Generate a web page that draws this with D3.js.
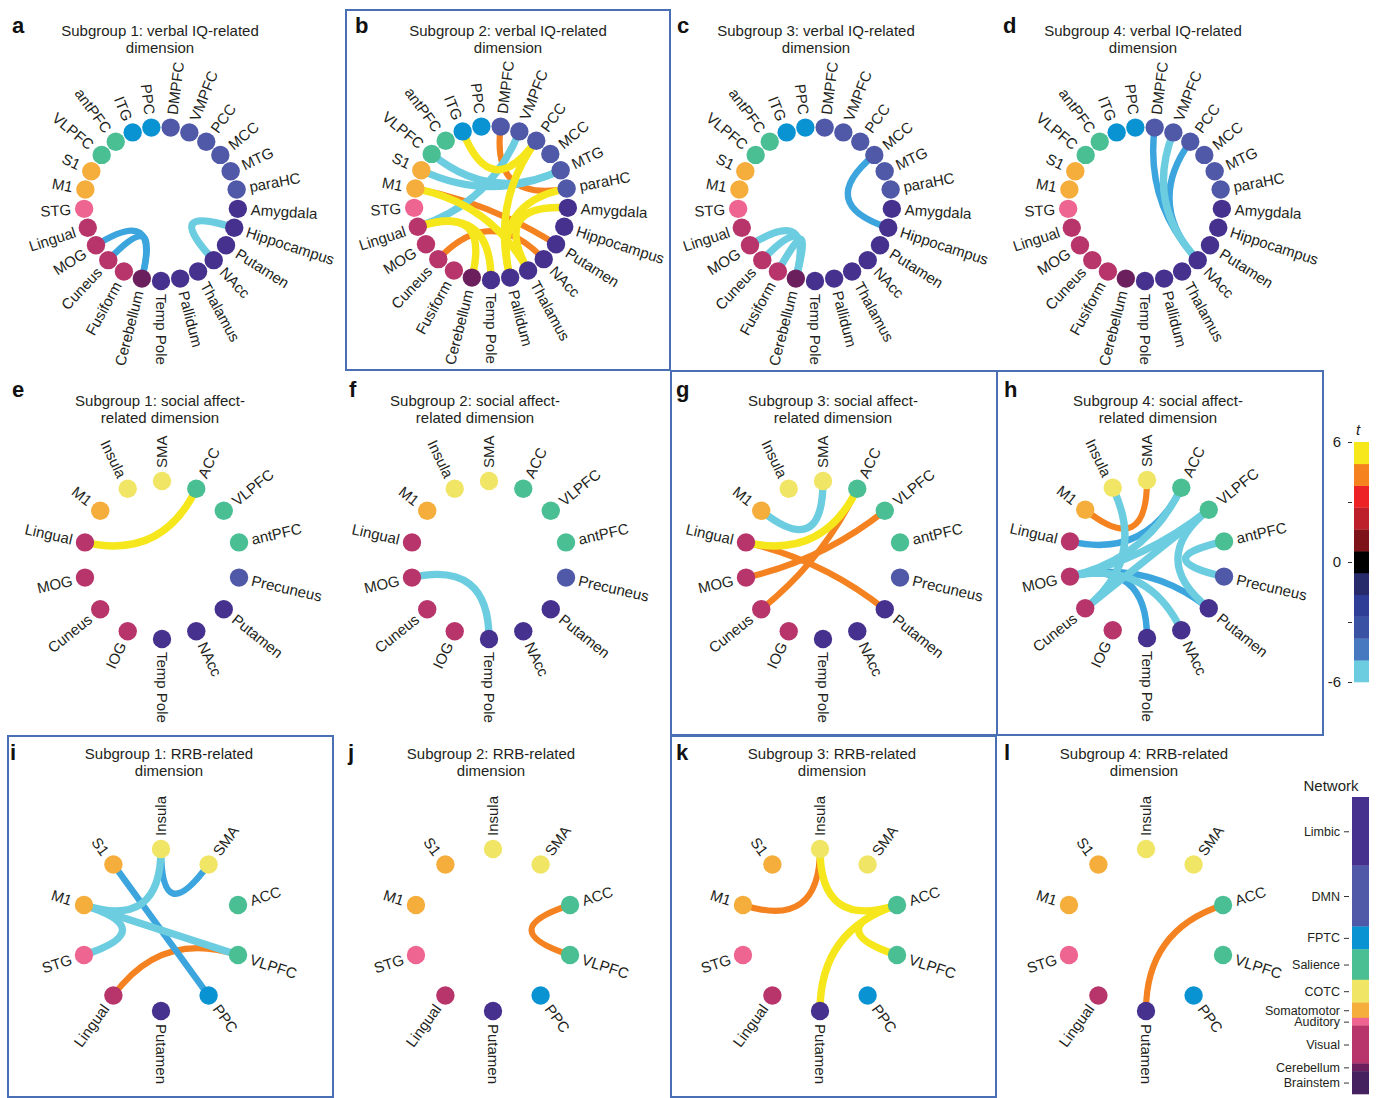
<!DOCTYPE html>
<html>
<head>
<meta charset="utf-8">
<script src="https://cdn.jsdelivr.net/npm/d3@7"></script>
<style>
  body { margin: 0; background: #fff; }
  svg { display: block; font-family: "Liberation Sans", Arial, sans-serif; }
</style>
</head>
<body>
<svg id="fig" width="1380" height="1098"></svg>
<script>
// ---------- regions (clockwise order around each ring) ----------
const verbalNodes = ["DMPFC","VMPFC","PCC","MCC","MTG","paraHC","Amygdala","Hippocampus","Putamen","NAcc",
  "Thalamus","Pallidum","Temp Pole","Cerebellum","Fusiform","Cuneus","MOG","Lingual","STG","M1","S1",
  "VLPFC","antPFC","ITG","PPC"];
const socialNodes = ["SMA","ACC","VLPFC","antPFC","Precuneus","Putamen","NAcc","Temp Pole","IOG","Cuneus",
  "MOG","Lingual","M1","Insula"];
const rrbNodes = ["Insula","SMA","ACC","VLPFC","PPC","Putamen","Lingual","STG","M1","S1"];

// ---------- networks ----------
const networkNames  = ["Limbic","DMN","FPTC","Salience","COTC","Somatomotor","Auditory","Visual","Cerebellum","Brainstem"];
const networkSizes  = [9, 8, 3, 4, 3, 2, 1, 5, 1, 3];
const networkColors = ["#47318f","#5059a7","#0a93d2","#4abf94","#f0e565","#f5ad3b","#ef6592","#b8356b","#6b1f5d","#45225f"];

const limbicRegions    = ["Amygdala","Hippocampus","Putamen","NAcc","Thalamus","Pallidum","Temp Pole"];
const dmnRegions       = ["DMPFC","VMPFC","PCC","MCC","MTG","paraHC","Precuneus"];
const fptcRegions      = ["ITG","PPC"];
const salienceRegions  = ["VLPFC","antPFC","ACC"];
const cotcRegions      = ["Insula","SMA"];
const somatoRegions    = ["M1","S1"];
const auditoryRegions  = ["STG"];
const visualRegions    = ["Fusiform","Cuneus","MOG","Lingual","IOG"];
const cerebellumRegions= ["Cerebellum"];

// ---------- t-value colour bar ----------
const tBinColors = ["#6dcde0","#4679bf","#3a52a3","#2e3d96","#272a6b","#000000",
                    "#7e1419","#bd1f2b","#ec2227","#f6821f","#f6e81b"]; // from t = -6 up to t = 6
const tTicks = [-6, -3, 0, 3, 6];

// ---------- connections: [region, region, t] ----------
const edgesA = [["MOG","Cerebellum",-4.6],["Cuneus","Cerebellum",-4.6],["Hippocampus","NAcc",-5.7]];
const edgesB = [["VMPFC","Lingual",-5.6],["VLPFC","MTG",-5.6],["S1","MTG",-5.6],
  ["DMPFC","paraHC",4.2],["M1","Putamen",4.2],["Cuneus","NAcc",4.2],
  ["ITG","PCC",5.8],["PCC","Pallidum",5.8],["M1","Thalamus",5.8],["Lingual","Cerebellum",5.8],
  ["Lingual","Temp Pole",5.8],["paraHC","Pallidum",5.8],["Amygdala","Thalamus",5.8]];
const edgesC = [["MCC","Hippocampus",-4.6],["MOG","Cerebellum",-5.7],["Cuneus","Cerebellum",-5.7],["Fusiform","Cerebellum",-5.7]];
const edgesD = [["DMPFC","NAcc",-4.6],["VMPFC","NAcc",-5.7],["PCC","NAcc",-4.6]];
const edgesE = [["Lingual","ACC",5.8]];
const edgesF = [["MOG","Temp Pole",-5.7]];
const edgesG = [["M1","SMA",-5.7],["Lingual","ACC",5.8],["MOG","VLPFC",4.2],["Cuneus","ACC",4.2],["Lingual","Putamen",4.2]];
const edgesH = [["M1","SMA",4.2],["Insula","Cuneus",-5.7],["Lingual","ACC",-4.6],["ACC","MOG",-5.7],
  ["VLPFC","MOG",-5.7],["VLPFC","Cuneus",-5.7],["VLPFC","Putamen",-5.7],["antPFC","Precuneus",-5.7],
  ["MOG","Putamen",-4.6],["MOG","NAcc",-5.7],["MOG","Temp Pole",-4.6]];
const edgesI = [["M1","STG",-5.7],["M1","VLPFC",-5.7],["M1","Insula",-5.7],["Insula","SMA",-4.6],["S1","PPC",-4.6],["Lingual","VLPFC",4.2]];
const edgesJ = [["ACC","VLPFC",4.2]];
const edgesK = [["M1","Insula",4.2],["Insula","ACC",5.8],["ACC","VLPFC",5.8],["ACC","Putamen",5.8]];
const edgesL = [["ACC","Putamen",4.2]];

// ---------- lookups / scales ----------
const regionNetwork = new Map();
[[limbicRegions,"Limbic"],[dmnRegions,"DMN"],[fptcRegions,"FPTC"],[salienceRegions,"Salience"],
 [cotcRegions,"COTC"],[somatoRegions,"Somatomotor"],[auditoryRegions,"Auditory"],
 [visualRegions,"Visual"],[cerebellumRegions,"Cerebellum"]]
  .forEach(([list, net]) => list.forEach(r => regionNetwork.set(r, net)));

const networkColor = d3.scaleOrdinal().domain(networkNames).range(networkColors);
const edgeColor = d3.scaleThreshold().domain([-5, 0, 5]).range(["#6ccde0","#3ca5de","#f58220","#f6e71c"]);
const edgeWidth = d3.scaleLinear().domain([4, 6]).range([6, 7.6]).clamp(true);

const svg = d3.select("#fig");
const TEXT = "#231f20";
const BOX = "#4a6fb5";

// ---------- panel layout ----------
const rows = [
  { R: 77, nodes: verbalNodes, offset: 0.5, t1: 36, t2: 53, letterY: 33 },
  { R: 79, nodes: socialNodes, offset: 0,   t1: 406, t2: 423, letterY: 397 },
  { R: 81, nodes: rrbNodes,    offset: 0,   t1: 759, t2: 776, letterY: 760 }
];
const panels = [
  { id:"a", row:0, cx:161,  cy:204, tx:160,  lx:12,   title:["Subgroup 1: verbal IQ-related","dimension"], edges:edgesA },
  { id:"b", row:0, cx:491,  cy:203, tx:508,  lx:355,  title:["Subgroup 2: verbal IQ-related","dimension"], edges:edgesB },
  { id:"c", row:0, cx:815,  cy:204, tx:816,  lx:677,  title:["Subgroup 3: verbal IQ-related","dimension"], edges:edgesC },
  { id:"d", row:0, cx:1145, cy:204, tx:1143, lx:1003, title:["Subgroup 4: verbal IQ-related","dimension"], edges:edgesD },
  { id:"e", row:1, cx:162,  cy:560, tx:160,  lx:12,   title:["Subgroup 1: social affect-","related dimension"], edges:edgesE },
  { id:"f", row:1, cx:489,  cy:560, tx:475,  lx:349,  title:["Subgroup 2: social affect-","related dimension"], edges:edgesF },
  { id:"g", row:1, cx:823,  cy:560, tx:833,  lx:676,  title:["Subgroup 3: social affect-","related dimension"], edges:edgesG },
  { id:"h", row:1, cx:1147, cy:559, tx:1158, lx:1004, title:["Subgroup 4: social affect-","related dimension"], edges:edgesH },
  { id:"i", row:2, cx:161,  cy:930, tx:169,  lx:10,   title:["Subgroup 1: RRB-related","dimension"], edges:edgesI },
  { id:"j", row:2, cx:493,  cy:930, tx:491,  lx:348,  title:["Subgroup 2: RRB-related","dimension"], edges:edgesJ },
  { id:"k", row:2, cx:820,  cy:930, tx:832,  lx:676,  title:["Subgroup 3: RRB-related","dimension"], edges:edgesK },
  { id:"l", row:2, cx:1146, cy:930, tx:1144, lx:1004, title:["Subgroup 4: RRB-related","dimension"], edges:edgesL }
];

// framed panels
const frames = [
  { x:346, y:10,  w:324, h:360 },
  { x:671, y:371, w:326, h:364 },
  { x:997, y:371, w:326, h:364 },
  { x:8,   y:736, w:325, h:361 },
  { x:671, y:736, w:325, h:361 }
];
svg.selectAll("rect.frame").data(frames).join("rect")
  .attr("class","frame")
  .attr("x", d => d.x).attr("y", d => d.y).attr("width", d => d.w).attr("height", d => d.h)
  .attr("fill","none").attr("stroke",BOX).attr("stroke-width",2);

// ---------- draw each connectogram ----------
panels.forEach(p => {
  const row = rows[p.row];
  const nodes = row.nodes, R = row.R, n = nodes.length;
  const angle = d3.scaleLinear().domain([0, n]).range([0, 2 * Math.PI]);
  const angleOf = new Map(nodes.map((d, i) => [d, angle(i + row.offset)]));
  const xy = name => { const a = angleOf.get(name); return [R * Math.sin(a), -R * Math.cos(a)]; };

  // letter + title
  svg.append("text").attr("x", p.lx).attr("y", row.letterY)
    .attr("font-size", 22).attr("font-weight", 900).attr("fill", "#111").text(p.id);
  svg.append("text").attr("text-anchor","middle").attr("font-size",15).attr("fill",TEXT)
    .selectAll("tspan").data(p.title).join("tspan")
    .attr("x", p.tx).attr("y", (d, i) => i ? row.t2 : row.t1).text(d => d);

  const g = svg.append("g").attr("transform", `translate(${p.cx},${p.cy})`);

  // edges: quadratic curves bent through the ring centre, strongest drawn last
  const edges = p.edges.slice().sort((a, b) => Math.abs(a[2]) - Math.abs(b[2]));
  g.selectAll("path.edge").data(edges).join("path")
    .attr("class","edge")
    .attr("d", d => {
      const [x1, y1] = xy(d[0]), [x2, y2] = xy(d[1]);
      const path = d3.path();
      path.moveTo(x1, y1);
      path.quadraticCurveTo(0, 0, x2, y2);
      return path.toString();
    })
    .attr("fill","none")
    .attr("stroke", d => edgeColor(d[2]))
    .attr("stroke-width", d => edgeWidth(Math.abs(d[2])));

  // nodes
  g.selectAll("circle.node").data(nodes).join("circle")
    .attr("class","node")
    .attr("cx", d => xy(d)[0]).attr("cy", d => xy(d)[1]).attr("r", 9.2)
    .attr("fill", d => networkColor(regionNetwork.get(d)));

  // radial labels
  g.selectAll("text.lbl").data(nodes).join("text")
    .attr("class","lbl")
    .attr("font-size",15).attr("fill",TEXT)
    .attr("dy","0.35em")
    .attr("transform", d => {
      const a = angleOf.get(d);
      const flip = a > Math.PI + 1e-6;
      return `rotate(${a * 180 / Math.PI - 90}) translate(${R + 13},0)${flip ? " rotate(180)" : ""}`;
    })
    .attr("text-anchor", d => angleOf.get(d) > Math.PI + 1e-6 ? "end" : "start")
    .text(d => d);
});

// ---------- t colour bar ----------
const tY = d3.scaleLinear().domain([-6, 6]).range([682, 442]);
const binW = 12 / tBinColors.length;
svg.append("g").selectAll("rect").data(tBinColors).join("rect")
  .attr("x", 1354).attr("width", 15)
  .attr("y", (d, i) => tY(-6 + (i + 1) * binW))
  .attr("height", (d, i) => tY(-6 + i * binW) - tY(-6 + (i + 1) * binW) + 0.3)
  .attr("fill", d => d);
const tAxis = svg.append("g").attr("transform","translate(1352,0)")
  .call(d3.axisLeft(tY).tickValues(tTicks).tickSize(4).tickPadding(7)
    .tickFormat(v => v % 6 === 0 ? (v < 0 ? "-" + Math.abs(v) : String(v)) : ""));
tAxis.select(".domain").remove();
tAxis.selectAll("line").attr("stroke","#333");
tAxis.selectAll("text").attr("font-size",15).attr("fill",TEXT).attr("font-family","Liberation Sans, Arial, sans-serif");
svg.append("text").attr("x",1356).attr("y",435).attr("font-size",15).attr("font-style","italic")
  .attr("fill",TEXT).text("t");

// ---------- network colour bar ----------
const cum = d3.cumsum(networkSizes);
const netY = d3.scaleLinear().domain([0, d3.sum(networkSizes)]).range([797, 1094]);
const netBlocks = networkNames.map((name, i) => ({ name, y0: i ? cum[i - 1] : 0, y1: cum[i] }));
svg.append("g").selectAll("rect").data(netBlocks).join("rect")
  .attr("x", 1352).attr("width", 17)
  .attr("y", d => netY(d.y0)).attr("height", d => netY(d.y1) - netY(d.y0) + 0.3)
  .attr("fill", d => networkColor(d.name));
const netScale = d3.scalePoint().domain(networkNames).range([0, 1]);
const netAxis = svg.append("g").attr("transform","translate(1349,0)")
  .call(d3.axisLeft(d3.scaleOrdinal().domain(networkNames).range(netBlocks.map(b => netY((b.y0 + b.y1) / 2))))
    .tickSize(5).tickPadding(4));
netAxis.select(".domain").remove();
netAxis.selectAll("line").attr("stroke","#333");
netAxis.selectAll("text").attr("font-size",12.5).attr("fill",TEXT).attr("font-family","Liberation Sans, Arial, sans-serif");
svg.append("text").attr("x",1331).attr("y",791).attr("text-anchor","middle").attr("font-size",15)
  .attr("fill",TEXT).text("Network");
</script>
</body>
</html>
